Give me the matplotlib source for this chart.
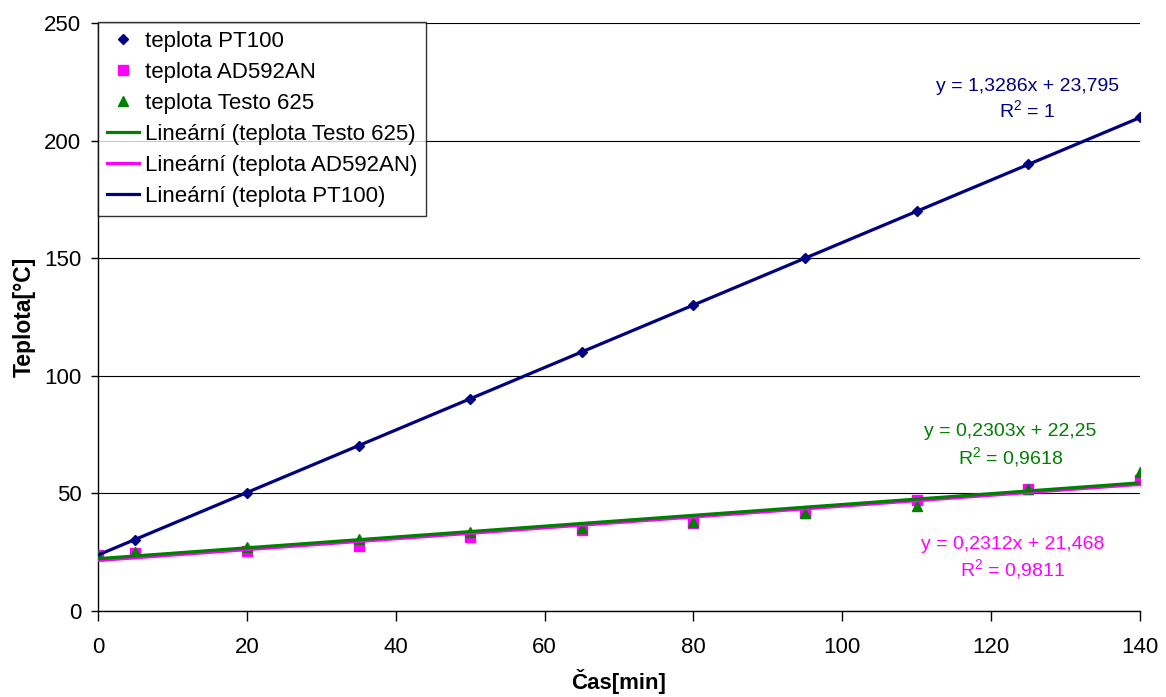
import matplotlib
matplotlib.use("Agg")
import matplotlib.pyplot as plt
import numpy as np

plt.rcParams['font.family'] = ['Liberation Sans', 'DejaVu Sans']
plt.rcParams['mathtext.default'] = 'regular'

# measurement times [min]
cas = [0, 5, 20, 35, 50, 65, 80, 95, 110, 125, 140]

# temperatures [°C]
t_pt100 = [24, 30, 50, 70, 90, 110, 130, 150, 170, 190, 210]
t_ad592 = [24, 24.5, 25.5, 27.5, 31.5, 34.5, 37.5, 41.5, 47, 52, 55.5]
t_testo = [24, 25, 27, 30.5, 33.5, 35.5, 38, 41.5, 44.5, 52, 59]

# linear trendlines (slope, intercept, R^2)
fit_pt100 = (1.3286, 23.795, "1")
fit_ad592 = (0.2312, 21.468, "0,9811")
fit_testo = (0.2303, 22.25, "0,9618")

navy = '#000080'
magenta = '#FF00FF'
green = '#008000'

fig = plt.figure(figsize=(11.66, 6.97), dpi=100)
ax = fig.add_axes([98 / 1166, 1 - 611 / 697, 1042 / 1166, 588 / 697])

ax.plot(cas, t_pt100, 'D', color=navy, markersize=5.5, label='teplota PT100', zorder=3)
ax.plot(cas, t_ad592, 's', color=magenta, markersize=6.5, label='teplota AD592AN', zorder=3)
ax.plot(cas, t_testo, '^', color=green, markersize=7.5, label='teplota Testo 625', zorder=3)

xs = np.array([cas[0], cas[-1]])
ax.plot(xs, fit_testo[0] * xs + fit_testo[1], color=green, lw=2.3,
        label='Lineární (teplota Testo 625)', zorder=4)
ax.plot(xs, fit_ad592[0] * xs + fit_ad592[1], color=magenta, lw=2.3,
        label='Lineární (teplota AD592AN)', zorder=3.5)
ax.plot(xs, fit_pt100[0] * xs + fit_pt100[1], color=navy, lw=2.3,
        label='Lineární (teplota PT100)', zorder=4)


def eq_text(fit):
    a, b, r2 = fit
    a_s = f"{a:g}".replace('.', ',')
    b_s = f"{b:g}".replace('.', ',')
    return f"y = {a_s}x + {b_s}\nR$^2$ = {r2}"


ax.text(124.9, 217.5, eq_text(fit_pt100), color=navy, fontsize=14,
        ha='center', va='center', linespacing=1.25)
ax.text(122.6, 70.1, eq_text(fit_testo), color=green, fontsize=14,
        ha='center', va='center', linespacing=1.25)
ax.text(122.9, 22.3, eq_text(fit_ad592), color=magenta, fontsize=14,
        ha='center', va='center', linespacing=1.25)

ax.set_xlim(0, 140)
ax.set_ylim(0, 250)
ax.set_xticks(range(0, 141, 20))
ax.set_yticks(range(0, 251, 50))
ax.yaxis.grid(True, color='black', lw=0.8)
ax.set_axisbelow(True)
for s in ('top', 'right'):
    ax.spines[s].set_visible(False)
ax.spines['left'].set_linewidth(1.0)
ax.spines['bottom'].set_linewidth(1.0)
ax.tick_params(direction='out', width=1, labelsize=16)
ax.tick_params(axis='y', length=5, pad=7)
ax.tick_params(axis='x', length=7, pad=12)

ax.set_xlabel('Čas[min]', fontsize=16, fontweight='bold', labelpad=8)
ax.set_ylabel('Teplota[°C]', fontsize=16.5, fontweight='bold', labelpad=6)

leg = ax.legend(loc='upper left', bbox_to_anchor=(0, 1.002), borderaxespad=0,
                fontsize=16, frameon=True, fancybox=False, edgecolor='black',
                handlelength=1.45, handletextpad=0.25, labelspacing=0.45,
                borderpad=0.4)
leg.get_frame().set_linewidth(1.0)

fig.savefig('out.png', dpi=100)
